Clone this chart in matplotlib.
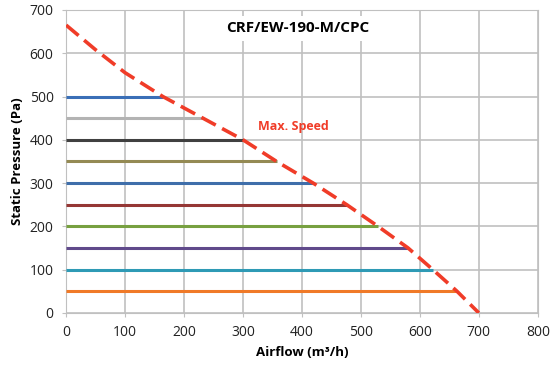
import matplotlib.pyplot as plt

plt.rcParams['font.family'] = ['Open Sans', 'DejaVu Sans']

# constant-pressure lines: pressure level and airflow where each meets the max curve
levels = [500, 450, 400, 350, 300, 250, 200, 150, 100, 50]
line_ends = [164, 232, 300, 357, 419, 476, 529, 580, 622, 663]
line_colors = ['#3a6fb7', '#b3b3b3', '#404040', '#948a54', '#3f6eaa',
               '#953735', '#77a040', '#604a8b', '#2e9ab5', '#f07a28']

# max speed curve
max_x = [0, 50, 100, 164, 232, 300, 357, 419, 476, 529, 580, 622, 663, 700]
max_y = [665, 608, 555, 500, 450, 400, 350, 300, 250, 200, 150, 100, 50, 0]

fig = plt.figure(figsize=(5.51, 3.69), dpi=100)
ax = fig.add_axes([0.12, 0.152, 0.856, 0.821])

for lvl, xe, c in zip(levels, line_ends, line_colors):
    ax.plot([0, xe], [lvl, lvl], color=c, lw=2.2, solid_capstyle='butt', zorder=3)

ax.plot(max_x, max_y, color='#f03c28', lw=2.6, ls=(0, (4.5, 2)), zorder=4)

ax.set_xlim(0, 800)
ax.set_ylim(0, 700)
ax.set_xticks(range(0, 801, 100))
ax.set_yticks(range(0, 701, 100))
ax.grid(True, color='#c0c0c0', lw=1.2)
ax.set_axisbelow(True)
for s in ax.spines.values():
    s.set_color('#c0c0c0')
ax.tick_params(length=3, color='#c0c0c0', labelsize=10, pad=6, labelcolor='#222222')

ax.set_xlabel('Airflow (m³/h)', fontsize=9.5, fontweight='bold')
ax.set_ylabel('Static Pressure (Pa)', fontsize=9.5, fontweight='bold')

ax.text(393, 658, 'CRF/EW-190-M/CPC', ha='center', va='center', fontsize=11,
        fontweight='bold', zorder=5,
        bbox=dict(facecolor='white', edgecolor='none', pad=4))
ax.text(325, 430, 'Max. Speed', color='#f03c28', fontsize=9, fontweight='bold',
        ha='left', va='center', zorder=5)

fig.savefig('out.png', dpi=100)
